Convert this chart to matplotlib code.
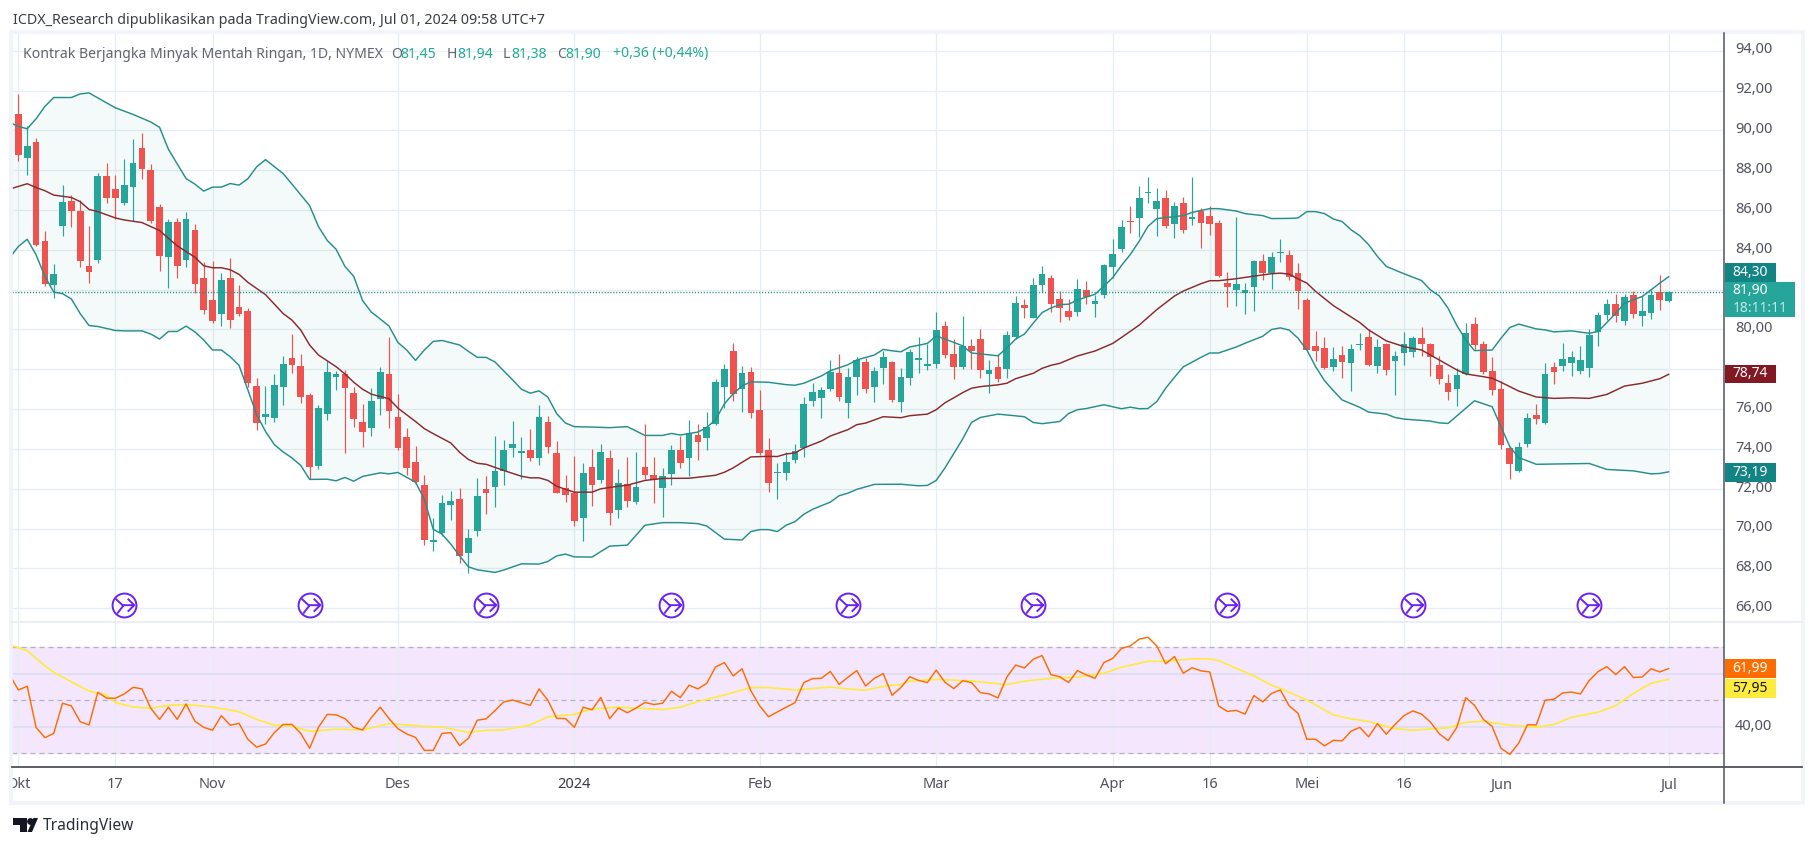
import numpy as np
import matplotlib
matplotlib.use("Agg")
import matplotlib.pyplot as plt
from matplotlib.path import Path
from matplotlib.patches import Rectangle, Polygon, Circle
from matplotlib.transforms import ScaledTranslation

plt.rcParams['font.family'] = ['Noto Sans', 'DejaVu Sans']

# candles, one per trading day
opens = [90.8,88.62,89.4,84.45,82.25,85.2,86.45,85.95,83.2,83.5,
         87.7,87.05,86.35,87.15,89.1,88.0,86.15,83.65,85.4,83.5,
         85.0,82.6,81.5,80.77,82.6,81.15,80.92,77.17,75.62,75.57,
         77.12,78.57,78.17,76.72,73.12,75.77,77.62,77.77,76.82,75.37,
         75.07,76.52,77.77,75.62,74.62,73.37,72.17,69.32,69.77,71.17,
         71.47,68.77,69.87,71.97,72.07,72.87,74.07,73.82,73.97,73.57,
         75.37,73.82,72.02,71.77,70.52,73.07,72.42,73.57,70.92,72.22,
         71.32,73.07,72.67,72.02,72.72,73.97,73.57,74.72,74.57,75.27,
         77.12,78.92,77.02,77.87,75.97,73.97,72.77,72.77,73.47,74.07,
         76.42,76.57,77.02,77.82,76.32,77.62,78.37,77.12,78.07,78.37,
         76.37,77.57,78.47,78.17,78.27,80.17,78.77,78.12,79.17,79.52,
         77.77,78.12,78.02,79.62,81.22,80.57,82.22,82.57,81.52,80.92,
         80.87,81.97,81.27,81.72,83.12,84.02,85.47,85.62,86.87,86.07,
         86.62,85.32,86.37,85.57,85.97,85.72,85.37,82.32,81.97,81.82,
         82.12,83.42,82.82,83.82,83.72,82.82,81.49,79.17,79.07,78.12,
         78.72,78.32,79.22,79.63,78.17,79.28,78.42,78.82,78.87,79.58,
         79.28,78.22,77.31,77.01,77.76,80.28,79.28,77.92,77.01,74.04,
         72.88,74.24,75.7,75.3,78.12,78.17,78.32,77.92,78.07,79.88,
         80.73,81.29,80.43,81.74,80.68,80.84,81.89,81.45]
highs = [91.85,90.23,89.6,84.95,83.3,87.25,86.75,86.5,85.2,87.85,
         88.35,87.75,88.55,89.55,89.85,88.3,86.3,85.55,85.6,85.9,
         85.3,83.37,83.45,82.83,83.6,82.25,81.07,77.57,77.17,77.77,
         78.67,79.77,78.77,76.82,76.22,78.42,77.92,77.97,77.12,76.27,
         77.07,78.12,79.62,76.77,75.07,74.17,72.67,70.52,71.67,71.87,
         72.02,69.97,72.52,72.62,74.67,74.47,75.42,74.62,75.02,76.22,
         75.67,74.42,72.67,73.67,73.27,74.02,74.27,73.97,72.97,73.62,
         73.87,75.27,73.62,73.02,74.22,74.67,75.47,75.27,75.87,77.52,
         78.27,79.32,78.17,78.12,76.97,74.57,73.32,73.87,74.27,76.62,
         77.32,77.12,78.47,78.77,78.07,78.62,78.57,78.12,78.92,78.42,
         78.07,79.02,79.62,79.27,80.87,80.42,79.52,80.67,79.52,80.02,
         78.47,78.77,79.92,81.67,81.52,82.57,83.17,82.72,81.92,81.52,
         82.52,82.42,81.72,83.27,84.52,85.52,86.22,87.22,87.67,87.12,
         87.02,86.42,86.67,87.67,86.12,86.22,85.52,82.87,85.67,82.32,
         83.47,83.77,83.87,84.52,83.97,83.32,81.57,79.93,79.63,79.12,
         79.17,79.28,79.83,80.03,79.53,79.33,78.92,79.88,79.68,80.13,
         79.33,78.67,77.77,78.07,80.33,80.63,79.43,78.62,77.4,74.14,
         74.34,75.8,76.26,78.32,78.37,79.33,78.92,79.17,80.01,80.89,
         81.54,81.79,81.79,81.94,81.69,81.99,82.75,81.94]
lows = [88.47,87.77,84.2,82.2,81.57,84.7,85.15,83.15,82.35,83.35,
        86.35,85.55,86.25,85.45,87.55,85.35,82.95,82.1,82.6,83.15,
        81.85,80.77,80.35,80.2,80.1,80.7,77.13,74.97,75.27,75.37,
        76.22,77.82,76.32,72.47,72.97,75.43,76.97,73.82,75.12,74.12,
        74.67,75.72,75.07,73.97,72.67,72.22,69.17,68.87,69.62,70.42,
        68.27,67.77,69.62,70.72,71.07,72.17,73.62,72.47,73.42,73.17,
        73.82,71.77,71.32,70.12,69.37,71.12,72.27,70.17,70.52,71.07,
        71.22,72.47,71.27,70.57,72.17,73.02,72.62,73.47,73.97,75.22,
        76.07,76.42,75.87,75.57,73.72,71.82,71.47,72.42,73.27,73.62,
        76.17,75.57,76.92,76.42,75.57,76.72,76.82,76.37,77.27,76.37,
        75.87,77.22,77.82,77.97,78.07,78.57,77.52,78.02,78.02,77.57,
        76.82,77.37,77.57,79.5,80.57,80.57,81.87,80.87,80.37,80.47,
        80.67,81.27,80.62,81.57,82.57,83.87,84.87,84.67,86.37,84.72,
        85.12,84.57,84.87,85.27,84.07,84.77,82.62,81.12,81.17,80.77,
        80.92,82.47,82.02,83.37,82.47,81.02,78.97,78.42,78.02,77.92,
        77.56,76.91,78.97,78.17,77.82,77.71,76.71,78.22,78.62,78.67,
        77.66,77.26,76.46,76.15,77.71,79.02,77.77,76.71,73.99,72.48,
        72.83,74.09,75.25,75.25,77.26,77.92,77.66,77.77,77.61,79.17,
        80.48,80.38,80.23,80.58,80.18,80.53,80.99,81.38]
closes = [88.77,89.2,84.22,82.3,82.8,86.4,85.95,83.45,82.9,87.7,
          86.6,86.6,87.25,88.35,88.05,85.45,83.7,85.4,83.2,85.55,
          82.3,80.97,80.42,82.5,80.47,80.8,77.32,75.32,75.77,77.22,
          78.27,78.22,76.62,73.07,76.07,77.87,77.77,77.07,75.52,74.87,
          76.42,77.87,75.92,74.07,73.02,72.32,69.42,69.42,71.27,71.37,
          68.62,69.52,71.62,71.77,72.87,73.97,74.27,73.92,73.57,75.62,
          74.12,71.77,71.67,70.37,72.77,72.17,73.87,70.77,72.27,71.37,
          72.07,72.67,72.42,72.62,73.97,73.27,74.82,74.37,75.12,77.37,
          78.02,76.77,77.82,75.82,73.8,72.27,72.82,73.37,73.92,76.27,
          76.87,76.97,77.87,76.62,77.62,78.47,77.02,77.92,78.62,76.47,
          77.62,78.87,78.57,78.27,79.97,78.72,78.12,79.17,78.92,77.97,
          77.97,77.52,79.72,81.32,81.07,82.22,82.77,81.27,81.07,80.62,
          82.02,81.62,81.42,83.22,83.77,85.17,85.42,86.62,86.92,86.47,
          85.22,86.22,85.02,85.67,85.37,85.32,82.67,82.12,82.27,81.97,
          83.42,82.82,83.62,83.87,82.62,81.92,78.97,78.92,78.07,78.52,
          78.37,79.02,79.28,78.22,79.12,77.97,78.67,79.28,79.58,79.28,
          78.62,77.51,76.86,77.71,79.83,79.22,77.87,76.96,74.19,73.23,
          74.09,75.55,75.5,77.77,77.87,78.52,78.62,78.47,79.73,80.73,
          81.29,80.68,81.64,80.79,80.94,81.74,81.49,81.90]

# bollinger bands, corner points of each line
upper_idx = [-1,0,1,2,3,4,6,7,8,11,13,15,16,17,19,20,21,22,23,24,25,26,27,28,30,31,33,34,35,36,
             37,38,39,40,41,42,43,44,45,46,47,48,50,51,52,53,54,56,57,58,59,60,61,62,63,65,67,69,71,73,
             74,75,77,78,79,80,81,82,83,85,87,88,89,91,92,94,95,97,98,99,100,101,103,104,105,106,107,108,110,111,
             112,113,114,115,116,117,118,119,120,122,123,124,125,126,127,128,129,130,132,133,134,135,136,138,139,141,142,144,145,146,
             147,148,149,150,151,152,153,154,155,157,159,160,161,162,163,164,165,167,168,169,170,172,173,174,176,178,179,180,181,182,
             184,185,186,187]
upper_val = [90.4,90.2,90.08,90.58,91.2,91.65,91.65,91.83,91.88,91.13,90.8,90.42,90.15,89.05,87.58,87.3,86.95,87.15,87.15,87.33,87.25,87.57,88.17,88.53,87.83,87.3,86.22,85.17,84.47,84.03,
             83.17,82.67,81.45,80.87,80.53,80.17,79.35,78.97,78.45,78.97,79.4,79.45,79.22,78.9,78.6,78.6,78.37,77.47,77.0,76.8,76.92,76.6,75.77,75.3,75.12,75.1,75.07,75.12,74.68,74.68,
             74.78,74.7,74.85,75.08,75.47,76.27,76.77,77.17,77.37,77.35,77.23,77.2,77.3,77.67,77.93,78.23,78.47,78.72,79.0,78.93,78.88,79.12,79.3,79.68,79.52,79.35,79.18,78.82,78.73,78.68,
             79.07,79.52,79.77,80.32,80.85,81.08,81.25,81.27,81.48,81.77,82.18,82.6,83.22,83.77,84.43,85.18,85.57,85.62,85.72,85.88,85.98,86.07,86.07,85.95,85.82,85.72,85.57,85.58,85.6,85.92,
             85.92,85.82,85.55,85.42,85.01,84.71,84.26,83.67,83.17,82.8,82.46,81.99,81.69,81.07,80.2,79.48,78.94,78.97,79.56,80.1,80.27,80.03,79.98,79.88,79.93,79.81,79.9,80.35,80.82,81.32,
             81.66,81.99,82.33,82.65]
basis_idx = [-1,1,2,3,4,6,7,8,9,11,12,14,15,16,17,18,20,21,22,23,24,25,26,28,30,31,32,33,34,36,
             37,38,39,40,42,43,45,46,47,49,50,51,52,53,55,57,58,59,60,61,62,63,65,66,68,69,71,73,76,79,
             80,81,82,83,85,86,87,88,89,91,92,94,95,96,98,100,101,103,104,105,106,107,108,109,111,112,113,115,116,117,
             118,120,122,124,125,127,129,131,132,134,135,136,138,140,142,143,144,145,146,147,149,152,153,155,157,159,161,163,164,166,
             167,168,170,172,174,176,178,180,182,184,186,187]
basis_val = [87.05,87.32,87.13,86.97,86.75,86.63,86.42,86.03,85.92,85.6,85.5,85.37,85.17,84.97,84.58,84.2,83.63,83.2,83.1,83.1,83.0,82.77,82.37,81.75,80.8,80.47,79.97,79.22,78.72,78.13,
             77.77,77.35,77.0,76.75,76.52,76.05,75.38,75.02,74.77,74.3,73.83,73.47,73.28,73.23,72.92,72.63,72.55,72.55,72.42,72.13,71.97,71.83,71.83,72.0,72.13,72.18,72.42,72.52,72.53,72.68,
             72.83,73.05,73.33,73.6,73.63,73.62,73.75,73.8,74.05,74.4,74.65,74.97,75.22,75.3,75.62,75.57,75.67,75.75,75.97,76.32,76.57,76.83,77.05,77.13,77.22,77.3,77.53,77.8,78.05,78.2,
             78.3,78.67,78.92,79.3,79.6,80.22,81.0,81.68,81.93,82.3,82.45,82.45,82.55,82.68,82.8,82.83,82.78,82.54,82.33,81.91,81.2,80.35,79.98,79.43,79.14,78.97,78.47,77.97,77.77,77.63,
             77.55,77.35,76.91,76.61,76.54,76.57,76.54,76.74,77.16,77.3,77.53,77.75]
lower_idx = [-1,0,1,2,3,4,5,6,7,8,9,11,12,14,15,16,17,18,19,20,21,22,23,24,25,26,27,28,29,30,
             31,32,33,35,36,37,38,39,41,42,43,45,46,47,48,49,50,51,52,54,55,57,59,60,61,62,63,65,66,67,
             69,71,73,75,77,78,79,80,82,83,84,85,86,87,88,89,90,92,93,94,95,97,100,102,103,104,105,106,107,108,
             109,111,114,115,116,118,119,120,121,123,125,126,127,128,129,130,131,132,134,135,136,138,139,141,142,143,144,145,146,147,
             148,149,150,152,153,155,156,157,160,161,162,164,165,167,168,169,170,172,178,180,183,185,186,187]
lower_val = [83.6,84.17,84.53,83.75,82.67,81.88,81.8,81.53,80.8,80.2,80.15,79.95,79.93,79.93,79.77,79.52,79.9,79.9,80.17,79.88,79.47,78.97,78.97,78.63,78.2,76.97,75.72,74.88,74.22,73.85,
             73.55,73.17,72.47,72.48,72.4,72.57,72.38,72.62,72.8,72.75,72.82,72.33,71.47,69.97,69.72,69.22,68.63,68.08,67.93,67.8,67.92,68.23,68.22,68.35,68.63,68.72,68.58,68.57,68.85,69.12,
             69.17,70.17,70.3,70.3,70.25,70.13,69.8,69.47,69.43,69.85,69.95,69.95,69.85,70.17,70.35,70.72,70.97,71.33,71.65,71.78,71.97,72.22,72.23,72.15,72.17,72.42,73.05,73.77,74.5,75.33,
             75.58,75.75,75.62,75.33,75.27,75.38,75.78,75.97,76.03,76.22,76.02,76.1,76.02,76.03,76.38,77.05,77.6,78.12,78.6,78.82,78.82,79.12,79.31,79.66,80.0,80.08,79.97,79.56,78.97,78.13,
             77.43,76.93,76.46,76.09,75.85,75.75,75.58,75.5,75.4,75.31,75.28,76.04,76.42,76.12,75.11,74.11,73.57,73.23,73.27,72.97,72.9,72.75,72.77,72.85]

# rsi and its moving average, first value sits one day left of the first candle
rsi_val = [59.6,
           53.9,55.3,39.8,35.9,37.5,48.9,47.9,41.9,40.7,53.0,
           50.8,50.8,52.4,54.9,54.3,47.0,42.8,47.4,42.8,48.6,
           42.1,39.8,38.7,44.2,40.6,41.3,35.3,32.3,33.5,37.8,
           40.9,40.9,37.5,31.9,39.8,44.7,44.5,43.1,39.8,38.8,
           43.5,47.4,43.1,39.3,37.3,36.0,31.1,31.1,37.5,37.8,
           32.9,35.7,42.5,43.0,46.1,49.4,50.1,49.1,48.1,54.3,
           50.0,43.2,43.1,39.8,47.4,46.4,51.1,43.1,47.1,45.3,
           47.1,49.2,48.4,48.9,53.4,51.0,55.7,54.3,56.4,62.6,
           64.2,59.2,61.9,53.6,47.9,43.8,45.6,47.4,49.1,56.7,
           58.2,58.3,60.9,56.0,58.7,61.2,55.4,58.3,60.1,51.9,
           54.8,58.9,57.5,56.7,61.4,56.8,54.4,57.4,56.7,52.9,
           52.4,50.9,58.7,63.3,62.2,65.5,66.9,59.7,58.9,56.7,
           61.2,59.6,58.3,64.2,65.8,69.6,70.5,73.1,73.8,70.5,
           63.8,66.5,60.2,62.3,61.1,60.7,47.9,45.8,46.2,44.8,
           51.8,49.4,52.6,53.9,47.9,45.1,35.3,35.3,32.8,34.9,
           34.7,38.3,39.8,36.2,41.2,37.2,40.9,44.2,46.0,44.8,
           41.8,37.4,34.8,39.8,51.0,48.1,42.8,40.1,31.9,29.6,
           33.8,40.8,40.7,50.0,50.4,52.8,53.1,52.4,57.5,60.8,
           62.7,59.7,62.7,58.6,58.8,61.9,60.7,61.99]
rsi_ma_idx = [-1,1,2,3,4,6,8,10,11,13,15,17,19,22,25,27,29,31,33,36,39,42,46,48,51,53,55,58,60,63,
              65,68,71,73,75,77,80,83,85,88,92,94,96,98,100,101,104,108,112,114,117,120,123,125,128,130,133,135,136,138,
              140,142,143,146,149,151,153,156,158,160,162,164,166,169,172,174,176,179,181,183,185,187]
rsi_ma_val = [71.0,68.7,65.8,63.0,60.6,57.0,53.5,52.0,49.1,47.5,47.0,48.1,48.4,47.5,45.7,42.8,40.6,40.3,38.3,39.1,38.8,41.2,40.2,39.9,37.9,38.7,38.8,40.7,43.8,44.7,
              46.7,47.4,46.9,46.5,47.4,49.5,52.0,54.8,54.8,53.9,55.0,54.3,53.8,55.3,56.0,57.3,57.9,57.3,55.9,57.2,58.3,58.8,60.2,62.5,64.7,64.7,65.7,65.6,65.0,62.1,
              59.2,55.7,54.5,50.1,44.5,43.0,42.0,39.3,38.7,39.2,39.6,41.7,42.1,40.6,39.9,40.9,43.6,45.5,48.0,52.6,56.4,57.95]

last_price = 81.90
price_ticks = list(range(66, 96, 2))
hidden_ticks = [78, 82]   # sit under the value tags
date_idx = [0, 11, 22, 43, 63, 84, 104, 124, 135, 146, 157, 168, 187]
date_labels = ["Okt", "17", "Nov", "Des", "2024", "Feb", "Mar", "Apr", "16", "Mei", "16", "Jun", "Jul"]
event_idx = [12, 33, 53, 74, 94, 115, 137, 158, 178]
event_price = [66.17] * len(event_idx)

UP = '#26a69a'
DOWN = '#ef5350'
GRID = '#e6edf3'
TEXT = '#50535e'
BAND = '#268f8c'
W, H = 1814, 846

def box(x0, y0, x1, y1):
    # pixel box to figure fractions
    return [x0 / W, 1 - y1 / H, (x1 - x0) / W, (y1 - y0) / H]

fig = plt.figure(figsize=(W / 100, H / 100), dpi=100, facecolor='white')
ax = fig.add_axes(box(12, 33, 1724, 622))
ar = fig.add_axes(box(12, 622, 1724, 767))

for a in (ax, ar):
    a.set_xlim(-0.725, 193.27)
    a.set_xticks(date_idx)
    a.grid(True, axis='x', color=GRID, lw=0.9)
    a.set_axisbelow(True)
    for s in a.spines.values():
        s.set_visible(False)
    a.yaxis.tick_right()

ax.set_ylim(65.31, 94.89)
ax.set_yticks(price_ticks)
ax.set_yticklabels(["" if p in hidden_ticks else "%d,00" % p for p in price_ticks])
ax.grid(True, axis='y', color=GRID, lw=0.9)
ax.tick_params(axis='both', length=0, labelsize=10.5, labelcolor=TEXT, pad=8)
ax.tick_params(axis='x', labelbottom=False)

# bands
ax.add_patch(Polygon(np.column_stack([upper_idx + lower_idx[::-1], upper_val + lower_val[::-1]]),
                     closed=True, facecolor=UP, alpha=0.055, edgecolor='none', zorder=1))

# candles
days = np.arange(len(closes))
o = np.array(opens)
c = np.array(closes)
col = [UP if b >= a else DOWN for a, b in zip(o, c)]
ax.vlines(days, lows, highs, colors=col, lw=0.85, zorder=2)
ax.bar(days, np.abs(c - o), bottom=np.minimum(o, c), width=0.76, color=col, zorder=3)

ax.plot(upper_idx, upper_val, color=BAND, lw=1.05, zorder=4)
ax.plot(lower_idx, lower_val, color=BAND, lw=1.05, zorder=4)
ax.plot(basis_idx, basis_val, color='#8a2a2e', lw=1.05, zorder=4)
ax.axhline(last_price, color='#1f8e88', lw=1.0, ls=(0, (0.8, 1.3)), zorder=4)

# split markers
glyph = Path([(-0.55, 0.42), (-0.12, 0.02), (0.6, 0.02), (0.2, 0.42), (0.6, 0.02), (0.2, -0.38), (-0.45, -0.5), (-0.05, 0.02)],
             [Path.MOVETO, Path.LINETO, Path.LINETO, Path.MOVETO, Path.LINETO, Path.LINETO, Path.MOVETO, Path.LINETO])
ax.plot(event_idx, event_price, ls='none', marker='o', ms=17.2, mfc='white', mec='#6a22f5', mew=1.4, zorder=5)
ax.plot(event_idx, event_price, ls='none', marker=glyph, ms=14, mfc='none', mec='#6a22f5', mew=1.4, zorder=6)

# rsi pane
ar.set_ylim(24.83, 79.55)
ar.axhspan(30, 70, color='#f4e6fd', zorder=0)
for lv in (40, 60):
    ar.axhline(lv, color='#dcdcf2', lw=1.1, zorder=1)
for lv in (30, 50, 70):
    ar.axhline(lv, color='#b4b2bc', lw=0.9, ls=(0, (4, 3.2)), zorder=1)
ar.set_yticks([40])
ar.set_yticklabels(["40,00"])
ar.set_xticklabels(date_labels)
ar.tick_params(axis='both', length=0, labelsize=10.5, labelcolor=TEXT)
ar.tick_params(axis='y', pad=8)
ar.tick_params(axis='x', pad=7.5)
ar.get_xticklabels()[4].set_fontweight('bold')
ar.get_xticklabels()[4].set_color('#363a45')
ar.plot(rsi_ma_idx, rsi_ma_val, color='#ffeb3b', lw=1.2, zorder=3)
ar.plot(np.arange(-1, len(closes)), rsi_val, color='#ff6d00', lw=1.05, zorder=4)

# value labels sit a little above their gridlines
lift = ScaledTranslation(0, 2 / 72, fig.dpi_scale_trans)
for lab in ax.get_yticklabels() + ar.get_yticklabels():
    lab.set_transform(lab.get_transform() + lift)

# chrome in pixel coordinates
ov = fig.add_axes([0, 0, 1, 1], zorder=10)
ov.set_xlim(0, W)
ov.set_ylim(H, 0)
ov.axis('off')
ov.patch.set_alpha(0)

ov.add_patch(Rectangle((0, 770), 11, 33, fc='white', ec='none'))
ov.add_patch(Rectangle((11, 32), 1792, 771, fc='none', ec='#f0f3fa', lw=2.6))
ov.plot([12, 1802], [622, 622], color='#e9ebf2', lw=1.2)
ov.plot([12, 1802], [767, 767], color='#4f5159', lw=1.3)
ov.plot([1724, 1724], [33, 803], color='#50535e', lw=1.1)

def tag(y0, y1, x1, fc, label, tc='white'):
    ov.add_patch(Rectangle((1724.5, y0), x1 - 1724.5, y1 - y0, fc=fc, ec='none'))
    ov.text(1750, (y0 + y1) / 2 - 0.5, label, color=tc, fontsize=10, ha='center', va='center')

tag(263, 282, 1776, '#138484', "84,30")
ov.add_patch(Rectangle((1724.5, 282), 70.5, 35, fc=UP, ec='none'))
ov.text(1750, 290.5, "81,90", color='white', fontsize=10, ha='center', va='center')
ov.text(1760, 308, "18:11:11", color='#c4e8e4', fontsize=10, ha='center', va='center')
tag(365, 383, 1776, '#801922', "78,74")
tag(463, 482, 1776, '#138484', "73,19")
tag(659, 678, 1776, '#ff6d00', "61,99")
tag(679, 698, 1776, '#ffeb3b', "57,95", tc='#131722')

ov.text(13, 21, "ICDX_Research dipublikasikan pada TradingView.com, Jul 01, 2024 09:58 UTC+7",
        color='#3b3e47', fontsize=10.3, va='center')
ov.text(23, 54, "Kontrak Berjangka Minyak Mentah Ringan, 1D, NYMEX", color='#62656f', fontsize=10.1, va='center')
for x, s, cl in [(391, "O", '#62656f'), (400.5, "81,45", '#22ab94'), (447, "H", '#62656f'), (457, "81,94", '#22ab94'),
                 (503, "L", '#62656f'), (511, "81,38", '#22ab94'), (557, "C", '#62656f'), (565.5, "81,90", '#22ab94'),
                 (613, "+0,36 (+0,44%)", '#22ab94')]:
    ov.text(x, 54, s, color=cl, fontsize=10.1, va='center')

# logo
ov.add_patch(Polygon([(13, 818), (27, 818), (27, 832), (20, 832), (20, 825), (13, 825)], closed=True, fc='#131722', ec='none'))
ov.add_patch(Circle((30.5, 821.5), 3.4, fc='#131722', ec='none'))
ov.add_patch(Polygon([(33.5, 818), (38, 818), (32, 832), (27.5, 832)], closed=True, fc='#131722', ec='none'))
ov.text(43, 825.5, "TradingView", color='#2a2e39', fontsize=11.2, va='center')

fig.savefig('out.png', dpi=100)
